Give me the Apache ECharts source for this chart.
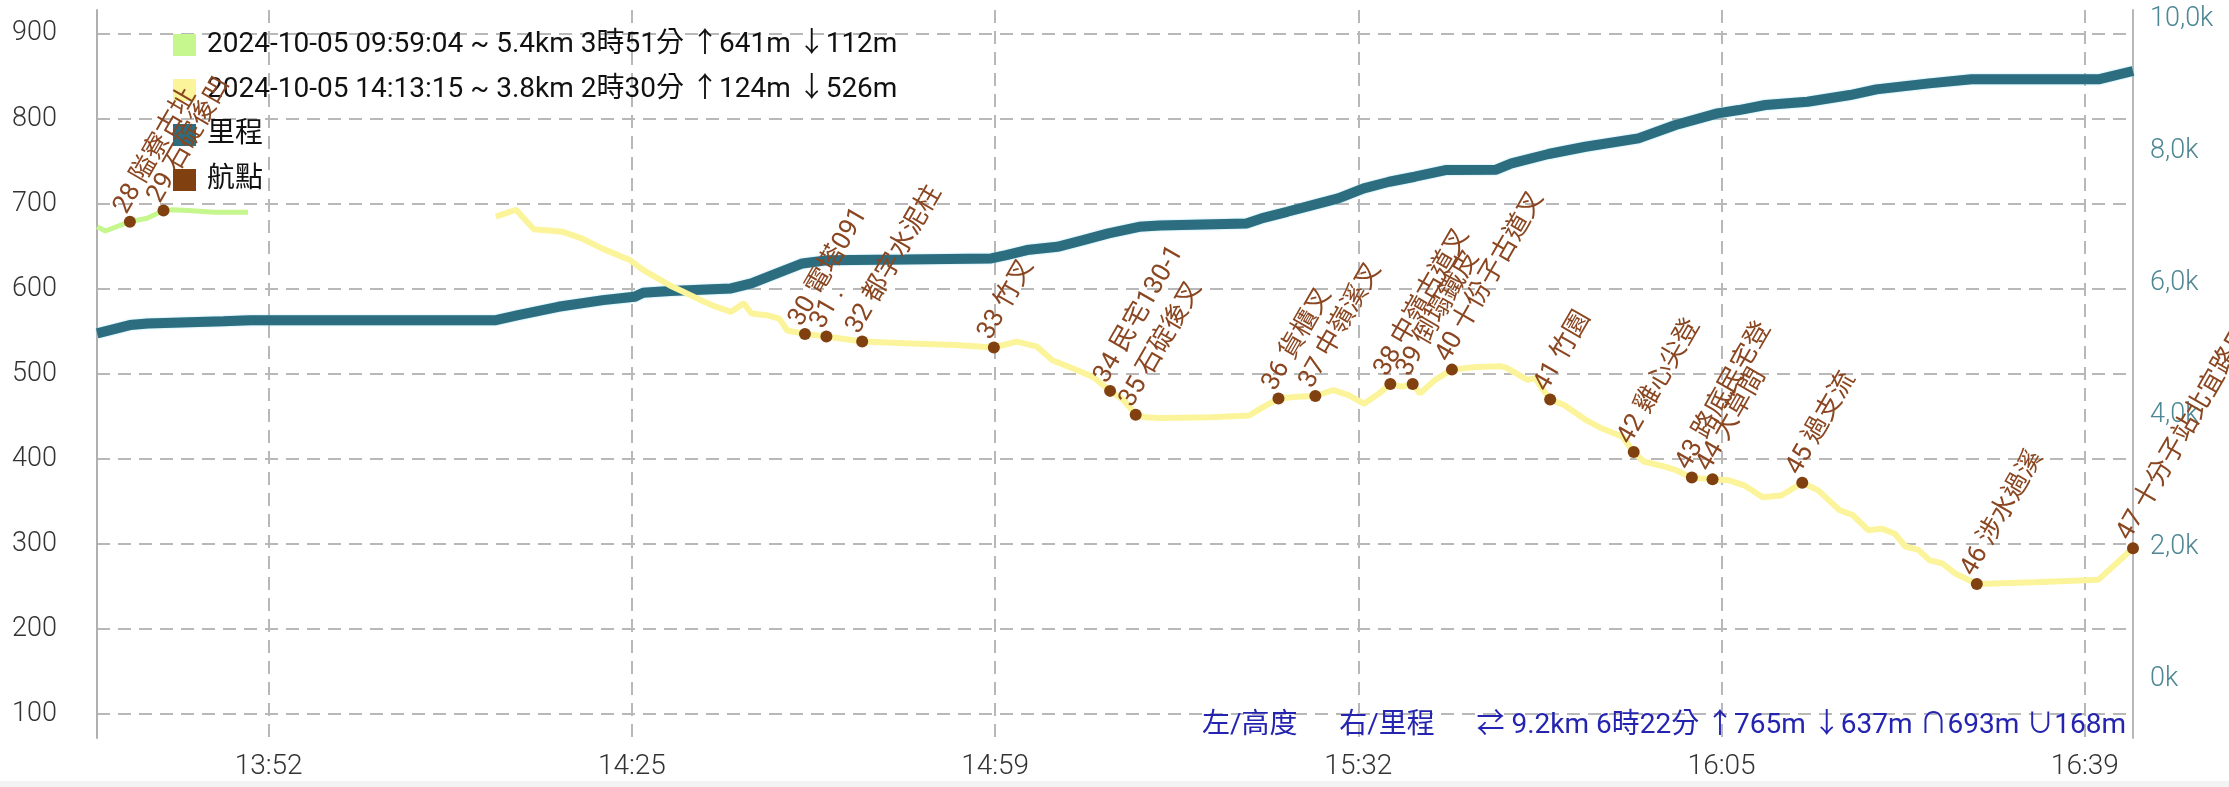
<!DOCTYPE html>
<html><head><meta charset="utf-8">
<script src="https://cdn.jsdelivr.net/npm/echarts@6/dist/echarts.min.js"></script>
<style>html,body{margin:0;padding:0;background:#fff}#c{width:2229px;height:787px}</style>
</head><body><div id="c"></div><script>
// ---- data ----
const startClock = '09:59:04';   // start of first track; x = seconds since this
const trackNames = [
  '2024-10-05 09:59:04 ~ 5.4km 3時51分 ↑641m ↓112m',
  '2024-10-05 14:13:15 ~ 3.8km 2時30分 ↑124m ↓526m'
];
const distName = '里程';
const wpSeriesName = '航點';

const greenTime = ['13:36:40','13:37:25','13:39:40','13:41:15','13:42:45','13:43:35','13:45:00','13:47:25','13:50:30'];
const greenElev = [673,668,679,683,692,693,692,690,690];

const yellowTime = ['14:13:15','14:15:06','14:16:44','14:19:24','14:21:00','14:23:05','14:25:32','14:26:47','14:29:14','14:32:01',
 '14:33:25','14:34:50','14:36:00','14:36:42','14:38:06','14:39:16','14:39:59','14:41:37','14:43:35','14:46:52',
 '14:50:44','14:55:25','14:58:57','15:01:03','15:02:55','15:04:19','15:06:40','15:08:05','15:09:37','15:10:53',
 '15:11:58','15:12:46','15:14:10','15:18:51','15:22:22','15:23:32','15:25:04','15:26:49','15:28:27','15:30:05',
 '15:31:30','15:32:54','15:34:18','15:35:20','15:36:24','15:37:23','15:38:03','15:39:27','15:40:59','15:43:12',
 '15:45:26','15:46:00','15:47:55','15:48:38','15:49:22','15:50:00','15:51:19','15:53:15','15:54:43','15:56:38',
 '15:57:40','15:58:35','16:00:31','16:01:30','16:03:00','16:04:54','16:06:21','16:07:48','16:09:30','16:11:12',
 '16:13:08','16:14:36','16:16:32','16:17:45','16:19:13','16:20:25','16:21:38','16:22:36','16:23:48','16:24:47',
 '16:26:00','16:27:12','16:29:09','16:34:29','16:40:19','16:41:46','16:43:29'];
const yellowElev = [685,693,670,667,660,647,634,622,604,587,
 579,573,583,571,569,565,551,547,544,538,
 536,534,531,538,532,516,504,496,480,469,
 452,449,448,449,451,460,471,473,474,481,
 475,465,477,488,485,488,477,493,505,508,
 509,507,493,495,481,470,463,446,436,426,
 408,397,391,387,378,376,375,369,355,357,
 372,363,340,334,316,318,312,297,293,281,
 277,265,253,255,258,275,295];

const distTime = ['13:36:40','13:39:40','13:41:18','13:48:15','13:50:43','14:13:15','14:15:18','14:18:59','14:23:05','14:25:58',
 '14:26:46','14:29:14','14:32:01','14:34:50','14:36:42','14:39:02','14:41:23','14:43:44','14:50:45','14:58:42',
 '15:00:06','15:01:59','15:04:47','15:07:09','15:09:28','15:12:17','15:14:09','15:22:08','15:23:30','15:25:52',
 '15:28:11','15:30:33','15:32:54','15:35:14','15:37:35','15:40:24','15:44:59','15:46:27','15:49:51','15:53:14',
 '15:58:06','16:01:30','16:05:21','16:07:19','16:09:45','16:13:37','16:17:31','16:19:56','16:24:47','16:28:40',
 '16:40:19','16:43:29'];
const distMeters = [5238,5364,5389,5424,5439,5439,5515,5641,5742,5792,
 5853,5880,5900,5920,5995,6147,6298,6348,6359,6374,
 6424,6500,6550,6651,6753,6853,6874,6904,6980,7080,
 7182,7283,7435,7535,7611,7712,7715,7813,7955,8065,
 8192,8394,8571,8621,8697,8747,8848,8934,9025,9086,
 9086,9212];

const wpNames = ['28 隘寮古址','29 石碇後凹','30 電塔091','31 .','32 都字水泥柱','33 竹叉','34 民宅130-1','35 石碇後叉',
 '36 貨櫃叉','37 中嶺溪叉','38 中嶺古道叉','39 倒塌鐵皮','40 十份子古道叉','41 竹園','42 雞心尖登','43 路底民宅登',
 '44 大草間','45 過支流','46 涉水過溪','47 十分子站北宜路口'];
const wpTime = ['13:39:40','13:42:45','14:41:37','14:43:35','14:46:52','14:58:57','15:09:37','15:11:58',
 '15:25:04','15:28:27','15:35:20','15:37:23','15:40:59','15:50:00','15:57:40','16:03:00',
 '16:04:54','16:13:08','16:29:09','16:43:29'];
const wpElev = [679,692,547,544,538,531,480,452,471,474,488,488,505,470,408,378,376,372,253,295];

const summaryText = '左/高度      右/里程      ⇄ 9.2km 6時22分 ↑765m ↓637m ∩693m ∪168m';

// ---- helpers ----
function sec(c){ const p = c.split(':').map(Number); return p[0]*3600 + p[1]*60 + (p[2]||0); }
const T0 = sec(startClock);
const rel = c => sec(c) - T0;
function clockLabel(v){ const s = Math.round(T0 + v); const h = Math.floor(s/3600); const m = Math.floor((s%3600)/60); return h + ':' + String(m).padStart(2,'0'); }
const pairs = (ts, vs) => ts.map((t,i)=>[rel(t), vs[i]]);

const FONT = 'Roboto, "Noto Sans CJK TC", sans-serif';
const C_GREEN = '#c6f78e', C_YELLOW = '#fbf49b', C_BLUE = '#2d6d80', C_BROWN = '#80400f';

const chart = echarts.init(document.getElementById('c'), null, {renderer:'canvas'});
chart.setOption({
  animation: false,
  backgroundColor: '#fff',
  textStyle: {fontFamily: FONT},
  grid: {left: 97, right: 96, top: 10, bottom: 49, containLabel: false},
  legend: {
    data: [trackNames[0], trackNames[1], distName, wpSeriesName],
    orient: 'vertical', left: 168, top: 26,
    itemWidth: 23, itemHeight: 22, itemGap: 17, icon: 'rect',
    selectedMode: false,
    textStyle: {fontSize: 28, color: '#111', fontFamily: FONT, padding: [0,0,0,6]}
  },
  xAxis: {
    type: 'value', min: rel('13:36:39'), max: rel('16:43:29'),
    minInterval: 2000, maxInterval: 2000,
    axisLine: {show: false}, axisTick: {show: false},
    axisLabel: {formatter: clockLabel, showMinLabel: false, showMaxLabel: false, fontSize: 28, color: '#333', fontWeight: 300, margin: 15, fontFamily: FONT},
    splitLine: {show: true, showMinLine: false, showMaxLine: false, lineStyle: {color: '#b8b8b8', width: 2, type: [13, 8]}}
  },
  yAxis: [{
    type: 'value', min: 71.8, max: 927.9, minInterval: 100, maxInterval: 100,
    position: 'left',
    axisLine: {show: true, lineStyle: {color: '#b0b0b0', width: 2}}, axisTick: {show: false},
    axisLabel: {showMinLabel: false, showMaxLabel: false, fontSize: 27, color: '#333', fontWeight: 300, margin: 40, fontFamily: FONT},
    splitLine: {show: true, showMinLine: false, showMaxLine: false, lineStyle: {color: '#b8b8b8', width: 2, type: [13, 8]}}
  },{
    type: 'value', min: -889, max: 10136, minInterval: 2000, maxInterval: 2000,
    position: 'right',
    axisLine: {show: true, lineStyle: {color: '#b8b8b8', width: 2}}, axisTick: {show: false},
    axisLabel: {showMinLabel: false, showMaxLabel: false, fontSize: 27, color: '#4d8793', fontWeight: 300, margin: 17, fontFamily: FONT,
      formatter: v => v === 0 ? '0k' : (v/1000).toFixed(1).replace('.', ',') + 'k'},
    splitLine: {show: false}
  }],
  series: [
    {name: trackNames[0], type: 'line', yAxisIndex: 0, showSymbol: false, z: 3,
     data: pairs(greenTime, greenElev), itemStyle: {color: C_GREEN}, lineStyle: {color: C_GREEN, width: 5}},
    {name: trackNames[1], type: 'line', yAxisIndex: 0, showSymbol: false, z: 3,
     data: pairs(yellowTime, yellowElev), itemStyle: {color: C_YELLOW}, lineStyle: {color: C_YELLOW, width: 6}},
    {name: distName, type: 'line', yAxisIndex: 1, showSymbol: false, z: 2,
     data: pairs(distTime, distMeters), itemStyle: {color: C_BLUE},
     lineStyle: {color: C_BLUE, width: 10, shadowColor: 'rgba(140,215,235,0.9)', shadowBlur: 2}},
    {name: wpSeriesName, type: 'scatter', yAxisIndex: 0, symbolSize: 12, z: 4,
     itemStyle: {color: C_BROWN, opacity: 1},
     data: wpTime.map((t,i)=>({name: wpNames[i], value: [rel(t), wpElev[i]]})),
     label: {show: true, formatter: '{b}', position: 'inside', align: 'left', verticalAlign: 'bottom',
       rotate: 60, fontSize: 26, color: '#8a4620', fontFamily: FONT, padding: [0,0,0,4]}}
  ],
  graphic: [
    {type: 'rect', left: 0, top: 781, shape: {width: 2229, height: 6}, style: {fill: '#f3f3f3'}, silent: true},
    {type: 'text', right: 103, bottom: 47, style: {text: summaryText, font: '28px ' + FONT, fill: '#2424b0'}, z: 10}
  ]
});
</script></body></html>
